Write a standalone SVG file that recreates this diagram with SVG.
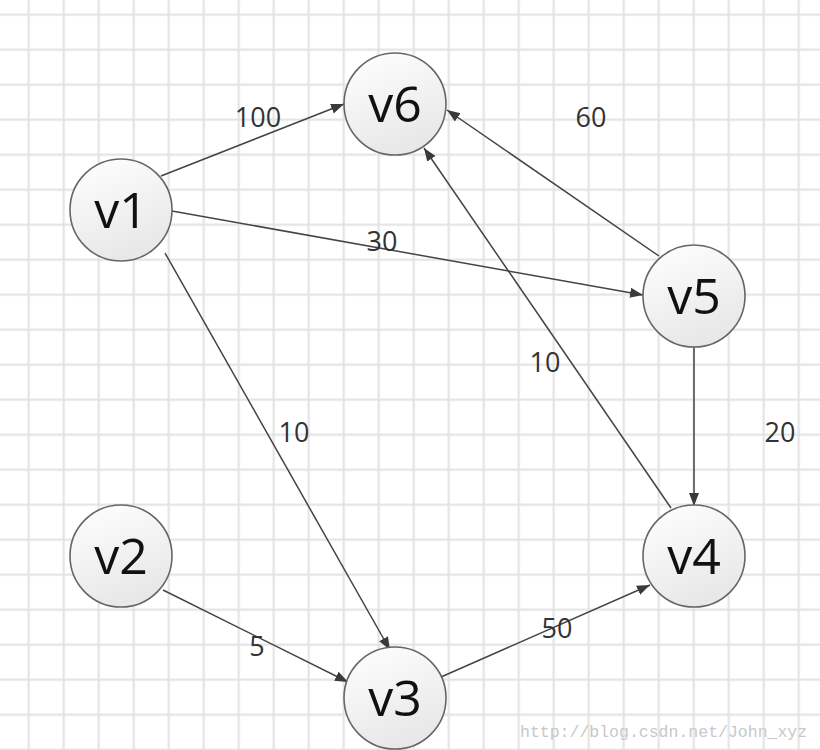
<svg xmlns="http://www.w3.org/2000/svg" width="820" height="750" viewBox="0 0 820 750">
<defs>
<pattern id="grid" patternUnits="userSpaceOnUse" x="11.2" y="-2.8" width="35" height="35">
<path d="M17.5 0V35M0 17.5H35" stroke="#e2e2e2" stroke-width="2" fill="none"/>
</pattern>
<linearGradient id="nodeFill" x1="0" y1="0" x2="0.4" y2="1">
<stop offset="0" stop-color="#ffffff"/>
<stop offset="1" stop-color="#e8e8e8"/>
</linearGradient>
<marker id="arr" markerUnits="userSpaceOnUse" markerWidth="14" markerHeight="12" refX="13" refY="5" orient="auto">
<path d="M0 0L13 5L0 10Z" fill="#3a3a3a"/>
</marker>
</defs>
<style>
.node circle{fill:url(#nodeFill);stroke:#666;stroke-width:1.6}
.node text{font-family:"Open Sans","Noto Sans",sans-serif;font-size:50px;fill:#111;text-anchor:middle}
.edge{stroke:#444;stroke-width:1.5;fill:none;marker-end:url(#arr)}
.lbl{font-family:"Open Sans","Noto Sans",sans-serif;font-size:27px;fill:#333;text-anchor:middle}
.wm{font-family:"Liberation Mono",monospace;font-size:16.5px;fill:#c8c8c8}
</style>
<rect width="820" height="750" fill="#ffffff"/>
<rect width="820" height="750" fill="url(#grid)"/>
<g id="connectors">
<line class="edge" x1="161" y1="176" x2="344" y2="104"/>
<line class="edge" x1="172" y1="211" x2="643" y2="295"/>
<line class="edge" x1="165" y1="253" x2="390" y2="650"/>
<line class="edge" x1="659" y1="256" x2="447" y2="110"/>
<line class="edge" x1="671" y1="508" x2="424" y2="148"/>
<line class="edge" x1="694" y1="347" x2="694" y2="506"/>
<line class="edge" x1="163" y1="590" x2="348" y2="682"/>
<line class="edge" x1="441" y1="677" x2="650" y2="585"/>
<text class="lbl" x="258" y="127">100</text>
<text class="lbl" x="591" y="127">60</text>
<text class="lbl" x="382" y="251">30</text>
<text class="lbl" x="545" y="372">10</text>
<text class="lbl" x="294" y="442">10</text>
<text class="lbl" x="780" y="442">20</text>
<text class="lbl" x="257" y="656">5</text>
<text class="lbl" x="557" y="638">50</text>
</g>
<g id="v1" class="node"><circle cx="121" cy="210" r="51"/><text x="121" y="228">v1</text></g>
<g id="v6" class="node"><circle cx="395" cy="104" r="51"/><text x="395" y="122">v6</text></g>
<g id="v5" class="node"><circle cx="694" cy="296" r="51"/><text x="694" y="314">v5</text></g>
<g id="v4" class="node"><circle cx="694" cy="556" r="51"/><text x="694" y="574">v4</text></g>
<g id="v2" class="node"><circle cx="121" cy="556" r="51"/><text x="121" y="574">v2</text></g>
<g id="v3" class="node"><circle cx="395" cy="698" r="51"/><text x="395" y="716">v3</text></g>
<text class="wm" x="520" y="737">http://blog.csdn.net/John_xyz</text>
</svg>
